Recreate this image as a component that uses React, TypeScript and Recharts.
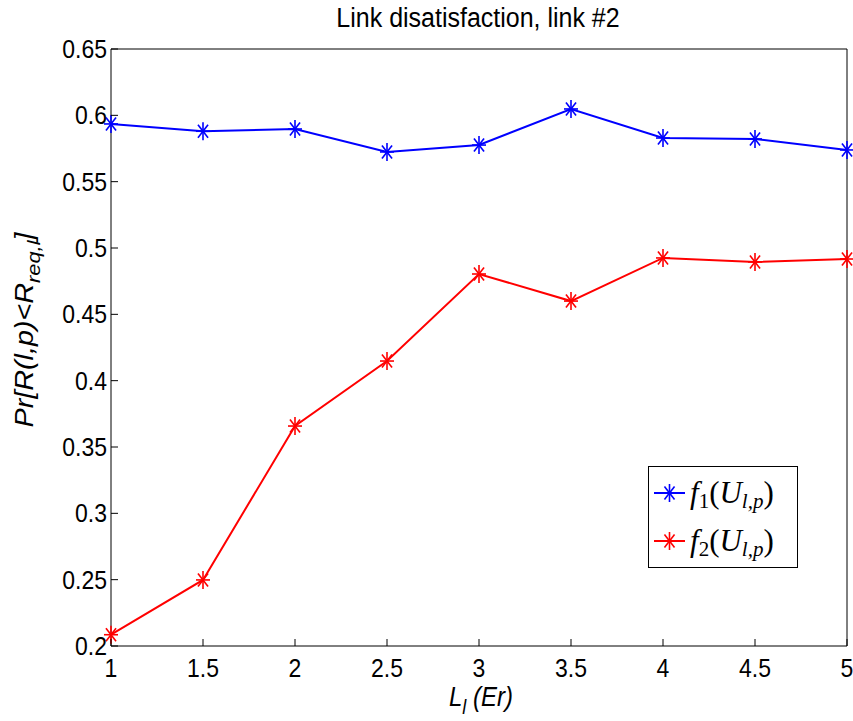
import { LineChart, Line, XAxis, YAxis, ReferenceLine } from 'recharts';

const loads = [1, 1.5, 2, 2.5, 3, 3.5, 4, 4.5, 5];
const f1Values = [0.5935, 0.588, 0.5897, 0.5724, 0.5776, 0.6048, 0.5829, 0.5822, 0.5739];
const f2Values = [0.2085, 0.2498, 0.3658, 0.4148, 0.4804, 0.46, 0.4925, 0.4895, 0.4917];
const xTicks = [1, 1.5, 2, 2.5, 3, 3.5, 4, 4.5, 5];
const yTicks = [0.2, 0.25, 0.3, 0.35, 0.4, 0.45, 0.5, 0.55, 0.6, 0.65];

const data = loads.map((l, i) => ({ load: l, f1: f1Values[i], f2: f2Values[i] }));

const SANS = '"Liberation Sans", Arial, Helvetica, sans-serif';
const SERIF = '"Liberation Serif", "Times New Roman", serif';
const TICK = 7;

// matlab style ticks point into the plot box; text a bit taller than wide like the export
function BottomTick({ x, y, payload }: any) {
  return (
    <g>
      <line x1={x} y1={y} x2={x} y2={y - TICK} stroke="#000" />
      <text
        transform={`translate(${x},${y + 31}) scale(1,1.12)`}
        textAnchor="middle"
        fontSize={23}
        fontFamily={SANS}
        fill="#000"
      >
        {String(payload.value)}
      </text>
    </g>
  );
}

function LeftTick({ x, y, payload }: any) {
  return (
    <g>
      <line x1={x} y1={y} x2={x + TICK} y2={y} stroke="#000" />
      <text
        transform={`translate(${x - 4},${y + 9}) scale(1,1.12)`}
        textAnchor="end"
        fontSize={23}
        fontFamily={SANS}
        fill="#000"
      >
        {String(payload.value)}
      </text>
    </g>
  );
}

function TopTick({ x, y }: any) {
  return <line x1={x} y1={y} x2={x} y2={y + TICK} stroke="#000" />;
}

function RightTick({ x, y }: any) {
  return <line x1={x} y1={y} x2={x - TICK} y2={y} stroke="#000" />;
}

function Star({ cx, cy, color }: { cx: number; cy: number; color: string }) {
  const w = 7;
  const h = 9;
  return (
    <g stroke={color} strokeWidth={1.6}>
      <line x1={cx - w} y1={cy} x2={cx + w} y2={cy} />
      <line x1={cx} y1={cy - h} x2={cx} y2={cy + h} />
      <line x1={cx - w * 0.72} y1={cy - h * 0.72} x2={cx + w * 0.72} y2={cy + h * 0.72} />
      <line x1={cx - w * 0.72} y1={cy + h * 0.72} x2={cx + w * 0.72} y2={cy - h * 0.72} />
    </g>
  );
}

function LegendBox() {
  const entries = [
    { color: '#0000ff', idx: '1' },
    { color: '#ff0000', idx: '2' },
  ];
  return (
    <svg width={150} height={102} style={{ display: 'block' }}>
      <rect x={0.5} y={0.5} width={149} height={101} fill="#fff" stroke="#000" />
      {entries.map((e, i) => {
        const cy = 27 + i * 48;
        return (
          <g key={e.idx}>
            <line x1={6} y1={cy} x2={37} y2={cy} stroke={e.color} strokeWidth={2} />
            <Star cx={21.5} cy={cy} color={e.color} />
            <text x={42} y={cy + 10} fontSize={31} fontFamily={SERIF} fill="#000">
              <tspan fontStyle="italic">f</tspan>
              <tspan fontSize={21} dy={5}>{e.idx}</tspan>
              <tspan dy={-5}>(</tspan>
              <tspan fontStyle="italic">U</tspan>
              <tspan fontSize={21} fontStyle="italic" dy={5}>l,p</tspan>
              <tspan dy={-5}>)</tspan>
            </text>
          </g>
        );
      })}
    </svg>
  );
}

export default function App() {
  return (
    <div style={{ position: 'absolute', left: 0, top: 0, width: 853, height: 721, background: '#fff' }}>
      <LineChart width={853} height={721} data={data} margin={{ top: 49, right: 6, bottom: 15, left: 51 }}>
        <text
          transform="translate(478,27) scale(1,1.08)"
          textAnchor="middle"
          fontSize={25}
          fontFamily={SANS}
          fill="#000"
        >
          Link disatisfaction, link #2
        </text>
        <XAxis
          xAxisId="b"
          dataKey="load"
          type="number"
          domain={[1, 5]}
          ticks={xTicks}
          height={60}
          tickSize={0}
          tickMargin={0}
          tickLine={false}
          axisLine={{ stroke: '#000' }}
          tick={<BottomTick />}
          interval={0}
          label={{
            content: () => (
              <text
                transform="translate(481,706) scale(1,1.12)"
                textAnchor="middle"
                fontSize={24}
                fontFamily={SANS}
                fontStyle="italic"
                fill="#000"
              >
                L<tspan fontSize={18} dy={7}>l</tspan>
                <tspan dy={-7}> (Er)</tspan>
              </text>
            ),
          }}
        />
        <XAxis
          xAxisId="t"
          dataKey="load"
          type="number"
          orientation="top"
          domain={[1, 5]}
          ticks={xTicks}
          height={0}
          tickSize={0}
          tickMargin={0}
          tickLine={false}
          axisLine={false}
          tick={<TopTick />}
          interval={0}
        />
        <YAxis
          yAxisId="l"
          type="number"
          domain={[0.2, 0.65]}
          ticks={yTicks}
          width={60}
          tickSize={0}
          tickMargin={0}
          tickLine={false}
          axisLine={{ stroke: '#000' }}
          tick={<LeftTick />}
          interval={0}
          label={{
            content: () => (
              <text
                transform="translate(33,330) rotate(-90) scale(1.15,1)"
                textAnchor="middle"
                fontSize={25}
                fontFamily={SANS}
                fontStyle="italic"
                fill="#000"
              >
                Pr[R(l,p)&lt;R<tspan fontSize={19} dy={7}>req,l</tspan>
                <tspan dy={-7}>]</tspan>
              </text>
            ),
          }}
        />
        <YAxis
          yAxisId="r"
          orientation="right"
          type="number"
          domain={[0.2, 0.65]}
          ticks={yTicks}
          width={0}
          tickSize={0}
          tickMargin={0}
          tickLine={false}
          axisLine={false}
          tick={<RightTick />}
          interval={0}
        />
        <ReferenceLine xAxisId="b" yAxisId="l" y={0.65} stroke="#000" strokeWidth={1} />
        <ReferenceLine xAxisId="b" yAxisId="l" x={5} stroke="#000" strokeWidth={1} />
        <Line
          xAxisId="b"
          yAxisId="l"
          dataKey="f1"
          stroke="#0000ff"
          strokeWidth={2}
          isAnimationActive={false}
          dot={(p: any) => <Star key={`a${p.index}`} cx={p.cx} cy={p.cy} color="#0000ff" />}
          activeDot={false}
        />
        <Line
          xAxisId="b"
          yAxisId="l"
          dataKey="f2"
          stroke="#ff0000"
          strokeWidth={2}
          isAnimationActive={false}
          dot={(p: any) => <Star key={`b${p.index}`} cx={p.cx} cy={p.cy} color="#ff0000" />}
          activeDot={false}
        />
      </LineChart>
      <div style={{ position: 'absolute', left: 648, top: 466 }}>
        <LegendBox />
      </div>
    </div>
  );
}
